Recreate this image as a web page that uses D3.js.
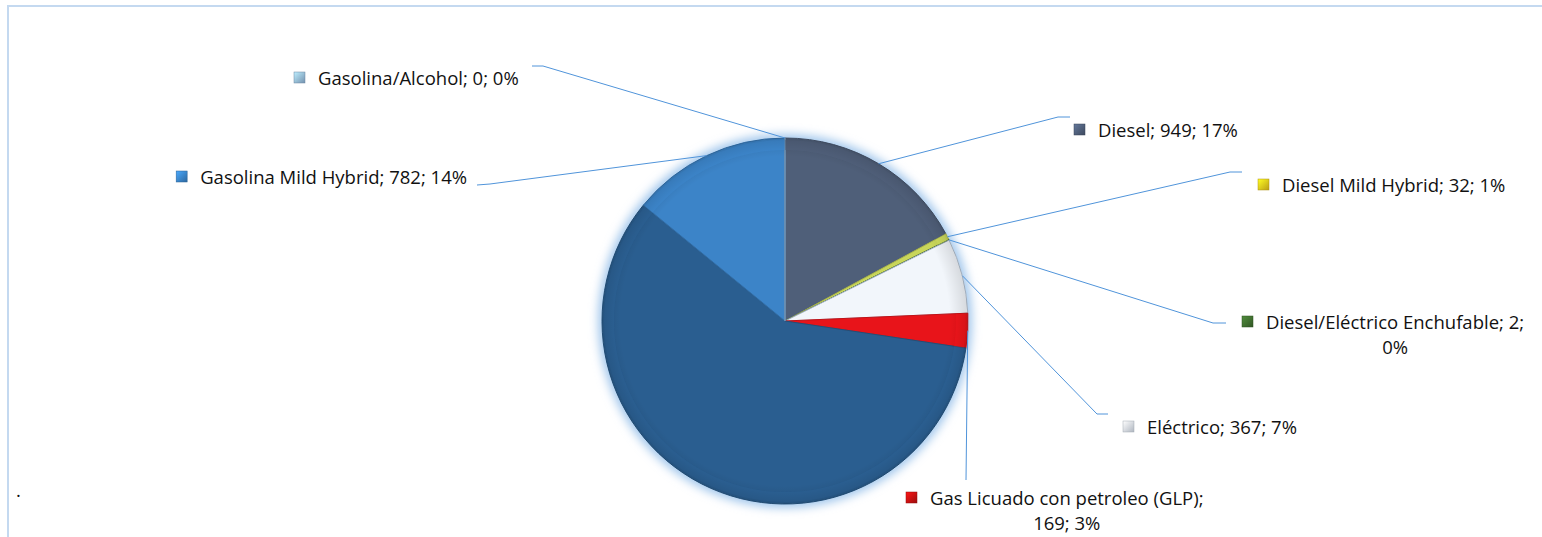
<!DOCTYPE html>
<html>
<head>
<meta charset="utf-8">
<script src="https://cdn.jsdelivr.net/npm/d3@7"></script>
<style>
  html, body { margin: 0; padding: 0; background: #fff; }
  svg { display: block; font-family: 'Open Sans', 'Noto Sans', sans-serif; }
</style>
</head>
<body>
<svg id="chart" width="1542" height="537"></svg>
<script>
// fuel types, clockwise from 12 o'clock
const categories = [
  'Diesel',
  'Diesel Mild Hybrid',
  'Diesel/Eléctrico Enchufable',
  'Eléctrico',
  'Gas Licuado con petroleo (GLP)',
  'Gasolina',
  'Gasolina Mild Hybrid',
  'Gasolina/Alcohol'
];
const values = [949, 32, 2, 367, 169, 3250, 782, 0];
const percents = ['17%', '1%', '0%', '7%', '3%', '', '14%', '0%'];
const colors = ['#4f5f79', '#c9d65a', '#3d6b2e', '#f2f6fb', '#e8141a', '#2a5e90', '#3c84c8', '#8fb4d8'];
const iconColors = ['#4b5b75', '#e8c21a', '#3d6b2e', '#d9e2ee', '#c01010', '#275b8c', '#3880c4', '#8fb4d8'];

// label layout: text start / end, baseline, leader elbow, line wrap
const labelLayout = [
  { x: 1098, y: 137, elbow: [[1058, 117], [1070, 117]] },
  { x: 1282, y: 192, elbow: [[1230, 172], [1242, 172]] },
  { x: 1266, y: 329, elbow: [[1213, 323], [1226, 323]], wrapAt: 2 },
  { x: 1147, y: 434, elbow: [[1097, 414], [1108, 414]] },
  { x: 930, y: 505, elbow: [[966, 480]], wrapAt: 1 },
  null,
  { endX: 467, y: 184, elbow: [[490, 184], [477, 185]] },
  { x: 318, y: 85, elbow: [[543, 66], [532, 66]] }
];

const svg = d3.select('#chart');
const cx = 785, cy = 321, R = 183;
const fontSize = 18.5;

// frame
svg.append('path')
  .attr('d', 'M8,537 L8,6 L1542,6')
  .attr('fill', 'none')
  .attr('stroke', '#c4d9f0')
  .attr('stroke-width', 2);

const defs = svg.append('defs');
const glow = defs.append('filter').attr('id', 'glow')
  .attr('x', '-20%').attr('y', '-20%').attr('width', '140%').attr('height', '140%');
glow.append('feGaussianBlur').attr('stdDeviation', 5);

// edge shading, in the pie group's own coordinates
const shade = defs.append('radialGradient').attr('id', 'shade')
  .attr('gradientUnits', 'userSpaceOnUse')
  .attr('cx', 0).attr('cy', 0).attr('r', R);
shade.append('stop').attr('offset', '0.9').attr('stop-color', '#000').attr('stop-opacity', 0);
shade.append('stop').attr('offset', '1').attr('stop-color', '#000').attr('stop-opacity', 0.12);

categories.forEach((c, i) => {
  const g = defs.append('linearGradient').attr('id', 'icon' + i)
    .attr('x1', 0).attr('y1', 0).attr('x2', 1).attr('y2', 1);
  g.append('stop').attr('offset', 0).attr('stop-color', d3.color(iconColors[i]).brighter(0.8));
  g.append('stop').attr('offset', 1).attr('stop-color', d3.color(iconColors[i]).darker(0.6));
});

const data = categories.map((name, i) => ({ name, value: values[i], i }));

const pie = d3.pie().value(d => d.value).sort(null);
const arcs = pie(data);
const arc = d3.arc().innerRadius(0).outerRadius(R);
const bevel = d3.arc().innerRadius(R - 12).outerRadius(R - 2);

const g = svg.append('g').attr('transform', `translate(${cx},${cy})`);

g.append('circle').attr('r', R + 4)
  .attr('fill', '#a3c7ec')
  .attr('filter', 'url(#glow)');

g.selectAll('path.slice')
  .data(arcs)
  .enter()
  .append('path')
  .attr('class', 'slice')
  .attr('d', arc)
  .attr('fill', d => colors[d.data.i])
  .attr('stroke', d => d.data.i === 3 ? '#aab8c8' : d3.color(colors[d.data.i]).darker(0.5))
  .attr('stroke-width', 1);

g.selectAll('path.bevel')
  .data(arcs.filter(d => d.value > 0 && d.data.i !== 3))
  .enter()
  .append('path')
  .attr('class', 'bevel')
  .attr('d', bevel)
  .attr('fill', d => d3.color(colors[d.data.i]).brighter(0.2))
  .attr('opacity', 0.5);

g.append('circle').attr('r', R).attr('fill', 'url(#shade)');

// leader lines and labels
const labels = svg.append('g');
arcs.forEach(d => {
  const lay = labelLayout[d.data.i];
  if (!lay) return;
  const mid = (d.startAngle + d.endAngle) / 2;
  const sx = cx + R * Math.sin(mid);
  const sy = cy - R * Math.cos(mid);
  labels.append('path')
    .attr('d', d3.line()([[sx, sy], ...lay.elbow]))
    .attr('fill', 'none')
    .attr('stroke', '#5094da')
    .attr('stroke-width', 1);

  const name = d.data.name, v = d.data.value, p = percents[d.data.i];
  let lines;
  if (lay.wrapAt === 2) lines = [`${name}; ${v};`, p];
  else if (lay.wrapAt === 1) lines = [`${name};`, `${v}; ${p}`];
  else lines = [`${name}; ${v}; ${p}`];

  const t = labels.append('text')
    .attr('y', lay.y)
    .attr('font-size', fontSize)
    .attr('fill', '#111')
    .text(lines[0]);
  const w = t.node().getComputedTextLength();
  const tx = lay.endX != null ? lay.endX - w : lay.x;
  t.attr('x', tx);
  if (lines[1]) {
    labels.append('text')
      .attr('x', tx + w / 2)
      .attr('y', lay.y + 25)
      .attr('text-anchor', 'middle')
      .attr('font-size', fontSize)
      .attr('fill', '#111')
      .text(lines[1]);
  }
  labels.append('rect')
    .attr('x', tx - 24)
    .attr('y', lay.y - 13)
    .attr('width', 11)
    .attr('height', 11)
    .attr('fill', `url(#icon${d.data.i})`)
    .attr('stroke', d3.color(iconColors[d.data.i]).darker(0.8))
    .attr('stroke-width', 0.5);
});

// truncated label of the largest slice
svg.append('text')
  .attr('x', 16)
  .attr('y', 497)
  .attr('font-size', fontSize)
  .attr('fill', '#111')
  .text('.');
</script>
</body>
</html>
